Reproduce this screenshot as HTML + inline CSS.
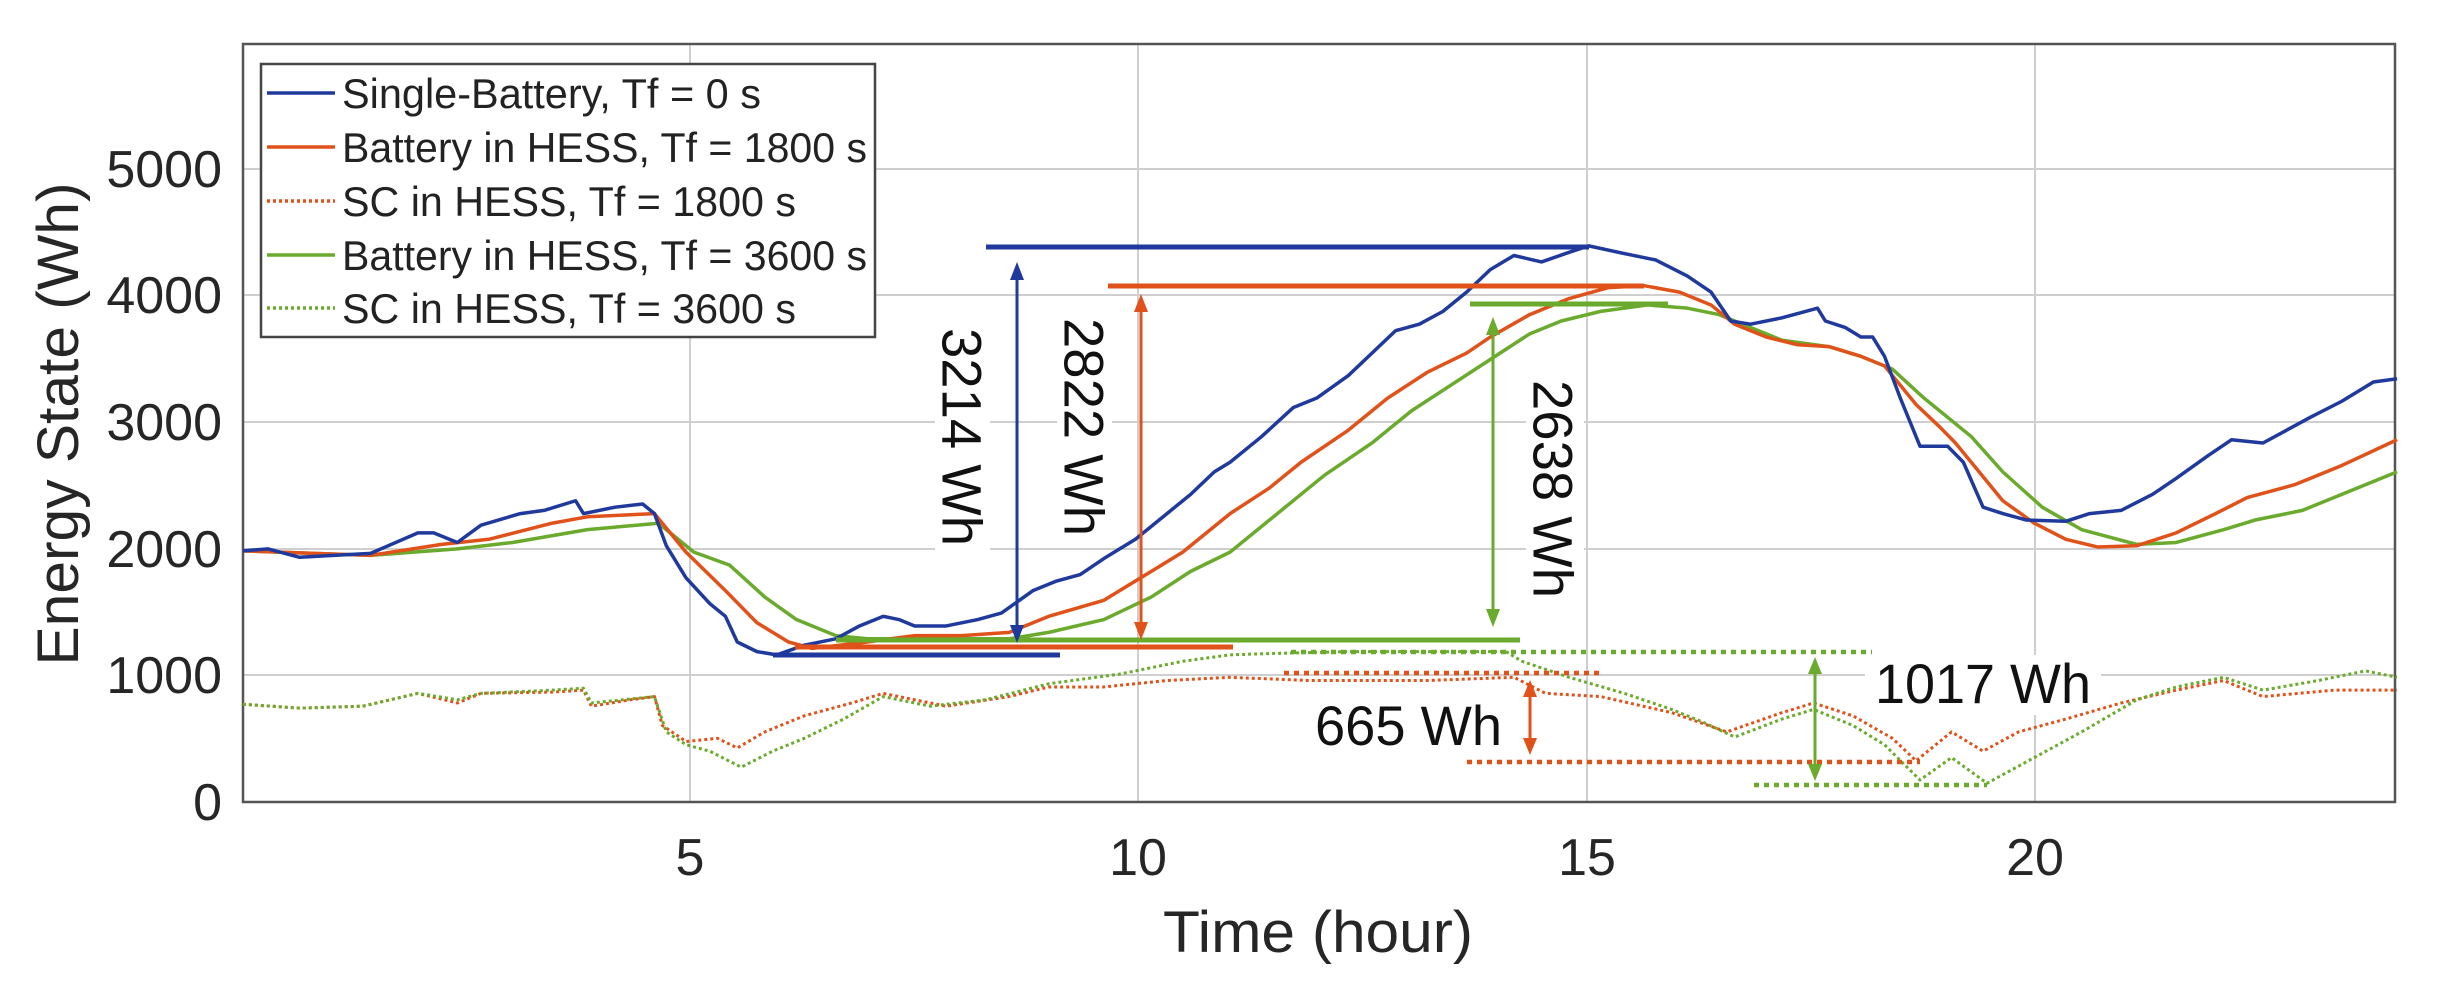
<!DOCTYPE html>
<html><head><meta charset="utf-8"><style>html,body{margin:0;padding:0;background:#fff}svg{display:block}</style></head>
<body>
<svg width="2460" height="1002" viewBox="0 0 2460 1002" xmlns="http://www.w3.org/2000/svg" font-family="Liberation Sans, Arial, sans-serif">
<rect width="2460" height="1002" fill="#fff"/>
<!-- grid -->
<g stroke="#cfcfcf" stroke-width="2">
<line x1="243" y1="169" x2="2395" y2="169"/><line x1="243" y1="295" x2="2395" y2="295"/>
<line x1="243" y1="422" x2="2395" y2="422"/><line x1="243" y1="549" x2="2395" y2="549"/>
<line x1="243" y1="675" x2="2395" y2="675"/>
<line x1="690" y1="44" x2="690" y2="802"/><line x1="1138" y1="44" x2="1138" y2="802"/>
<line x1="1587" y1="44" x2="1587" y2="802"/><line x1="2035" y1="44" x2="2035" y2="802"/>
</g>
<!-- text backgrounds -->
<rect x="935" y="320" width="55" height="235" fill="#fff"/>
<rect x="1057" y="310" width="55" height="235" fill="#fff"/>
<rect x="1526" y="372" width="58" height="235" fill="#fff"/>
<rect x="1865" y="655" width="236" height="60" fill="#fff"/>
<!-- axes box -->
<rect x="243" y="44" width="2152" height="758" fill="none" stroke="#555" stroke-width="2.5"/>
<!-- series in zoom coords -->
<g transform="scale(0.7885,0.642)" fill="none" stroke-linejoin="round">
<polyline vector-effect="non-scaling-stroke" stroke="#e0521a" stroke-width="3" stroke-dasharray="3,3" points="308,1097 380,1103 460,1100 530,1080 580,1095 610,1080 700,1078 740,1075 750,1100 800,1090 830,1085 840,1130 870,1155 910,1150 935,1165 970,1140 1020,1115 1080,1095 1120,1080 1160,1090 1200,1100 1280,1085 1330,1070 1400,1070 1480,1060 1560,1055 1660,1060 1810,1060 1920,1055 1960,1080 2030,1085 2120,1110 2190,1140 2260,1110 2300,1095 2350,1115 2400,1150 2430,1185 2475,1140 2515,1170 2560,1140 2620,1120 2690,1095 2760,1075 2820,1060 2870,1085 2960,1075 3040,1075"/>
<polyline vector-effect="non-scaling-stroke" stroke="#6aaa2c" stroke-width="3" stroke-dasharray="3,3" points="308,1097 380,1103 460,1100 530,1080 580,1090 610,1080 700,1075 740,1072 750,1095 830,1085 845,1140 870,1160 900,1170 940,1195 980,1170 1020,1150 1070,1120 1120,1085 1180,1100 1250,1090 1330,1065 1420,1050 1500,1030 1560,1020 1610,1018 1710,1015 1810,1015 1910,1015 1930,1030 1990,1055 2060,1080 2120,1105 2160,1125 2200,1148 2260,1120 2300,1105 2350,1130 2390,1160 2435,1215 2475,1180 2520,1220 2580,1180 2640,1140 2710,1090 2760,1070 2820,1055 2870,1075 2940,1060 3000,1045 3040,1055"/>
<polyline vector-effect="non-scaling-stroke" stroke="#6aaa2c" stroke-width="3.5" points="308,858 470,865 580,855 650,845 745,825 835,815 880,860 925,880 970,930 1010,965 1060,990 1100,995 1200,995 1280,995 1330,985 1400,965 1460,930 1510,890 1560,860 1620,800 1680,740 1740,690 1790,640 1840,600 1890,560 1940,520 1980,500 2030,485 2090,475 2140,480 2180,490 2210,505 2260,530 2320,540 2360,555 2400,575 2440,620 2500,680 2540,735 2590,790 2640,825 2710,848 2760,845 2820,825 2860,810 2920,795 2980,765 3040,735"/>
<polyline vector-effect="non-scaling-stroke" stroke="#e0521a" stroke-width="3.5" points="308,858 470,865 560,848 620,840 700,815 745,805 830,800 870,860 920,920 960,970 1000,1000 1030,1010 1100,1000 1160,990 1220,990 1280,985 1330,960 1400,935 1440,905 1500,860 1560,800 1610,760 1650,720 1710,670 1760,620 1810,580 1860,550 1890,525 1940,490 1990,465 2040,448 2085,445 2130,455 2170,475 2200,505 2240,525 2280,537 2320,540 2360,555 2390,570 2430,630 2460,665 2480,690 2510,735 2540,780 2580,815 2620,840 2660,852 2710,850 2760,830 2810,800 2850,775 2910,755 2970,725 3040,685"/>
<polyline vector-effect="non-scaling-stroke" stroke="#1f3a9c" stroke-width="3.5" points="308,858 340,855 380,868 470,862 530,830 550,830 580,845 610,818 660,800 690,795 730,780 740,800 780,790 815,785 830,800 845,850 870,900 900,940 920,960 935,1000 960,1015 985,1020 1020,1005 1060,995 1090,975 1120,960 1140,965 1160,975 1200,975 1240,965 1270,955 1310,920 1340,905 1370,895 1400,870 1440,840 1480,800 1510,770 1540,735 1560,720 1600,680 1640,635 1670,620 1710,585 1740,550 1770,515 1800,505 1830,485 1860,455 1890,420 1920,398 1955,408 1990,393 2015,383 2060,395 2100,405 2140,430 2170,455 2195,500 2220,505 2260,495 2305,480 2315,500 2340,510 2360,525 2375,525 2390,555 2410,620 2435,695 2470,695 2490,720 2515,790 2540,800 2570,810 2620,812 2650,800 2690,795 2730,770 2760,745 2800,710 2830,685 2870,690 2930,650 2970,625 3010,595 3040,590"/>
</g>
<!-- annotation bars -->
<g stroke-width="5">
<line x1="986" y1="247" x2="1589" y2="247" stroke="#1f3a9c"/>
<line x1="773" y1="655" x2="1060" y2="655" stroke="#1f3a9c"/>
<line x1="1108" y1="286" x2="1644" y2="286" stroke="#e0521a"/>
<line x1="795" y1="647" x2="1233" y2="647" stroke="#e0521a"/>
<line x1="1470" y1="304" x2="1668" y2="304" stroke="#6aaa2c"/>
<line x1="836" y1="640" x2="1520" y2="640" stroke="#6aaa2c"/>
</g>
<g stroke-width="4.5" stroke-dasharray="5,5">
<line x1="1291" y1="652" x2="1872" y2="652" stroke="#6aaa2c"/>
<line x1="1284" y1="673" x2="1602" y2="673" stroke="#e0521a"/>
<line x1="1467" y1="762" x2="1920" y2="762" stroke="#e0521a"/>
<line x1="1754" y1="785" x2="1987" y2="785" stroke="#6aaa2c"/>
</g>
<!-- arrows -->
<g stroke-width="3">
<line x1="1017" y1="270" x2="1017" y2="635" stroke="#1f3a9c"/>
<polygon points="1017,262 1010,280 1024,280" fill="#1f3a9c"/><polygon points="1017,643 1010,625 1024,625" fill="#1f3a9c"/>
<line x1="1141" y1="302" x2="1141" y2="632" stroke="#e0521a"/>
<polygon points="1141,294 1134,312 1148,312" fill="#e0521a"/><polygon points="1141,640 1134,622 1148,622" fill="#e0521a"/>
<line x1="1493" y1="325" x2="1493" y2="619" stroke="#6aaa2c"/>
<polygon points="1493,317 1486,335 1500,335" fill="#6aaa2c"/><polygon points="1493,627 1486,609 1500,609" fill="#6aaa2c"/>
<line x1="1530" y1="688" x2="1530" y2="747" stroke="#e0521a"/>
<polygon points="1530,680 1523,697 1537,697" fill="#e0521a"/><polygon points="1530,755 1523,738 1537,738" fill="#e0521a"/>
<line x1="1815" y1="665" x2="1815" y2="773" stroke="#6aaa2c"/>
<polygon points="1815,657 1808,674 1822,674" fill="#6aaa2c"/><polygon points="1815,781 1808,764 1822,764" fill="#6aaa2c"/>
</g>
<!-- annotation text -->
<g fill="#111" font-size="56">
<text transform="translate(962,437) rotate(90)" text-anchor="middle" dominant-baseline="central" textLength="218" lengthAdjust="spacingAndGlyphs">3214 Wh</text>
<text transform="translate(1084,427) rotate(90)" text-anchor="middle" dominant-baseline="central" textLength="218" lengthAdjust="spacingAndGlyphs">2822 Wh</text>
<text transform="translate(1553,489) rotate(90)" text-anchor="middle" dominant-baseline="central" textLength="218" lengthAdjust="spacingAndGlyphs">2638 Wh</text>
<text x="1315" y="745" textLength="187" lengthAdjust="spacingAndGlyphs">665 Wh</text>
<text x="1875" y="703" textLength="216" lengthAdjust="spacingAndGlyphs">1017 Wh</text>
</g>
<!-- legend -->
<rect x="261" y="64" width="614" height="273" fill="#fff" stroke="#444" stroke-width="2.5"/>
<g stroke-width="3.5">
<line x1="267" y1="93" x2="335" y2="93" stroke="#1f3a9c"/>
<line x1="267" y1="147" x2="335" y2="147" stroke="#e0521a"/>
<line x1="267" y1="201" x2="335" y2="201" stroke="#e0521a" stroke-dasharray="3,3"/>
<line x1="267" y1="255" x2="335" y2="255" stroke="#6aaa2c"/>
<line x1="267" y1="308" x2="335" y2="308" stroke="#6aaa2c" stroke-dasharray="3,3"/>
</g>
<g fill="#222" font-size="42">
<text x="342" y="108" textLength="419" lengthAdjust="spacingAndGlyphs">Single-Battery, Tf = 0 s</text>
<text x="342" y="162" textLength="525" lengthAdjust="spacingAndGlyphs">Battery in HESS, Tf = 1800 s</text>
<text x="342" y="216" textLength="454" lengthAdjust="spacingAndGlyphs">SC in HESS, Tf = 1800 s</text>
<text x="342" y="270" textLength="525" lengthAdjust="spacingAndGlyphs">Battery in HESS, Tf = 3600 s</text>
<text x="342" y="323" textLength="454" lengthAdjust="spacingAndGlyphs">SC in HESS, Tf = 3600 s</text>
</g>
<!-- ticks -->
<g fill="#262626" font-size="52" text-anchor="end">
<text x="222" y="187">5000</text><text x="222" y="313">4000</text><text x="222" y="440">3000</text>
<text x="222" y="567">2000</text><text x="222" y="693">1000</text><text x="222" y="820">0</text>
</g>
<g fill="#262626" font-size="52" text-anchor="middle">
<text x="690" y="875">5</text><text x="1138" y="875">10</text><text x="1587" y="875">15</text><text x="2035" y="875">20</text>
</g>
<text x="1318" y="952" font-size="58" fill="#262626" text-anchor="middle" textLength="310" lengthAdjust="spacingAndGlyphs">Time (hour)</text>
<text transform="translate(78,424) rotate(-90)" font-size="58" fill="#262626" text-anchor="middle" textLength="483" lengthAdjust="spacingAndGlyphs">Energy State (Wh)</text>
</svg>
</body></html>
